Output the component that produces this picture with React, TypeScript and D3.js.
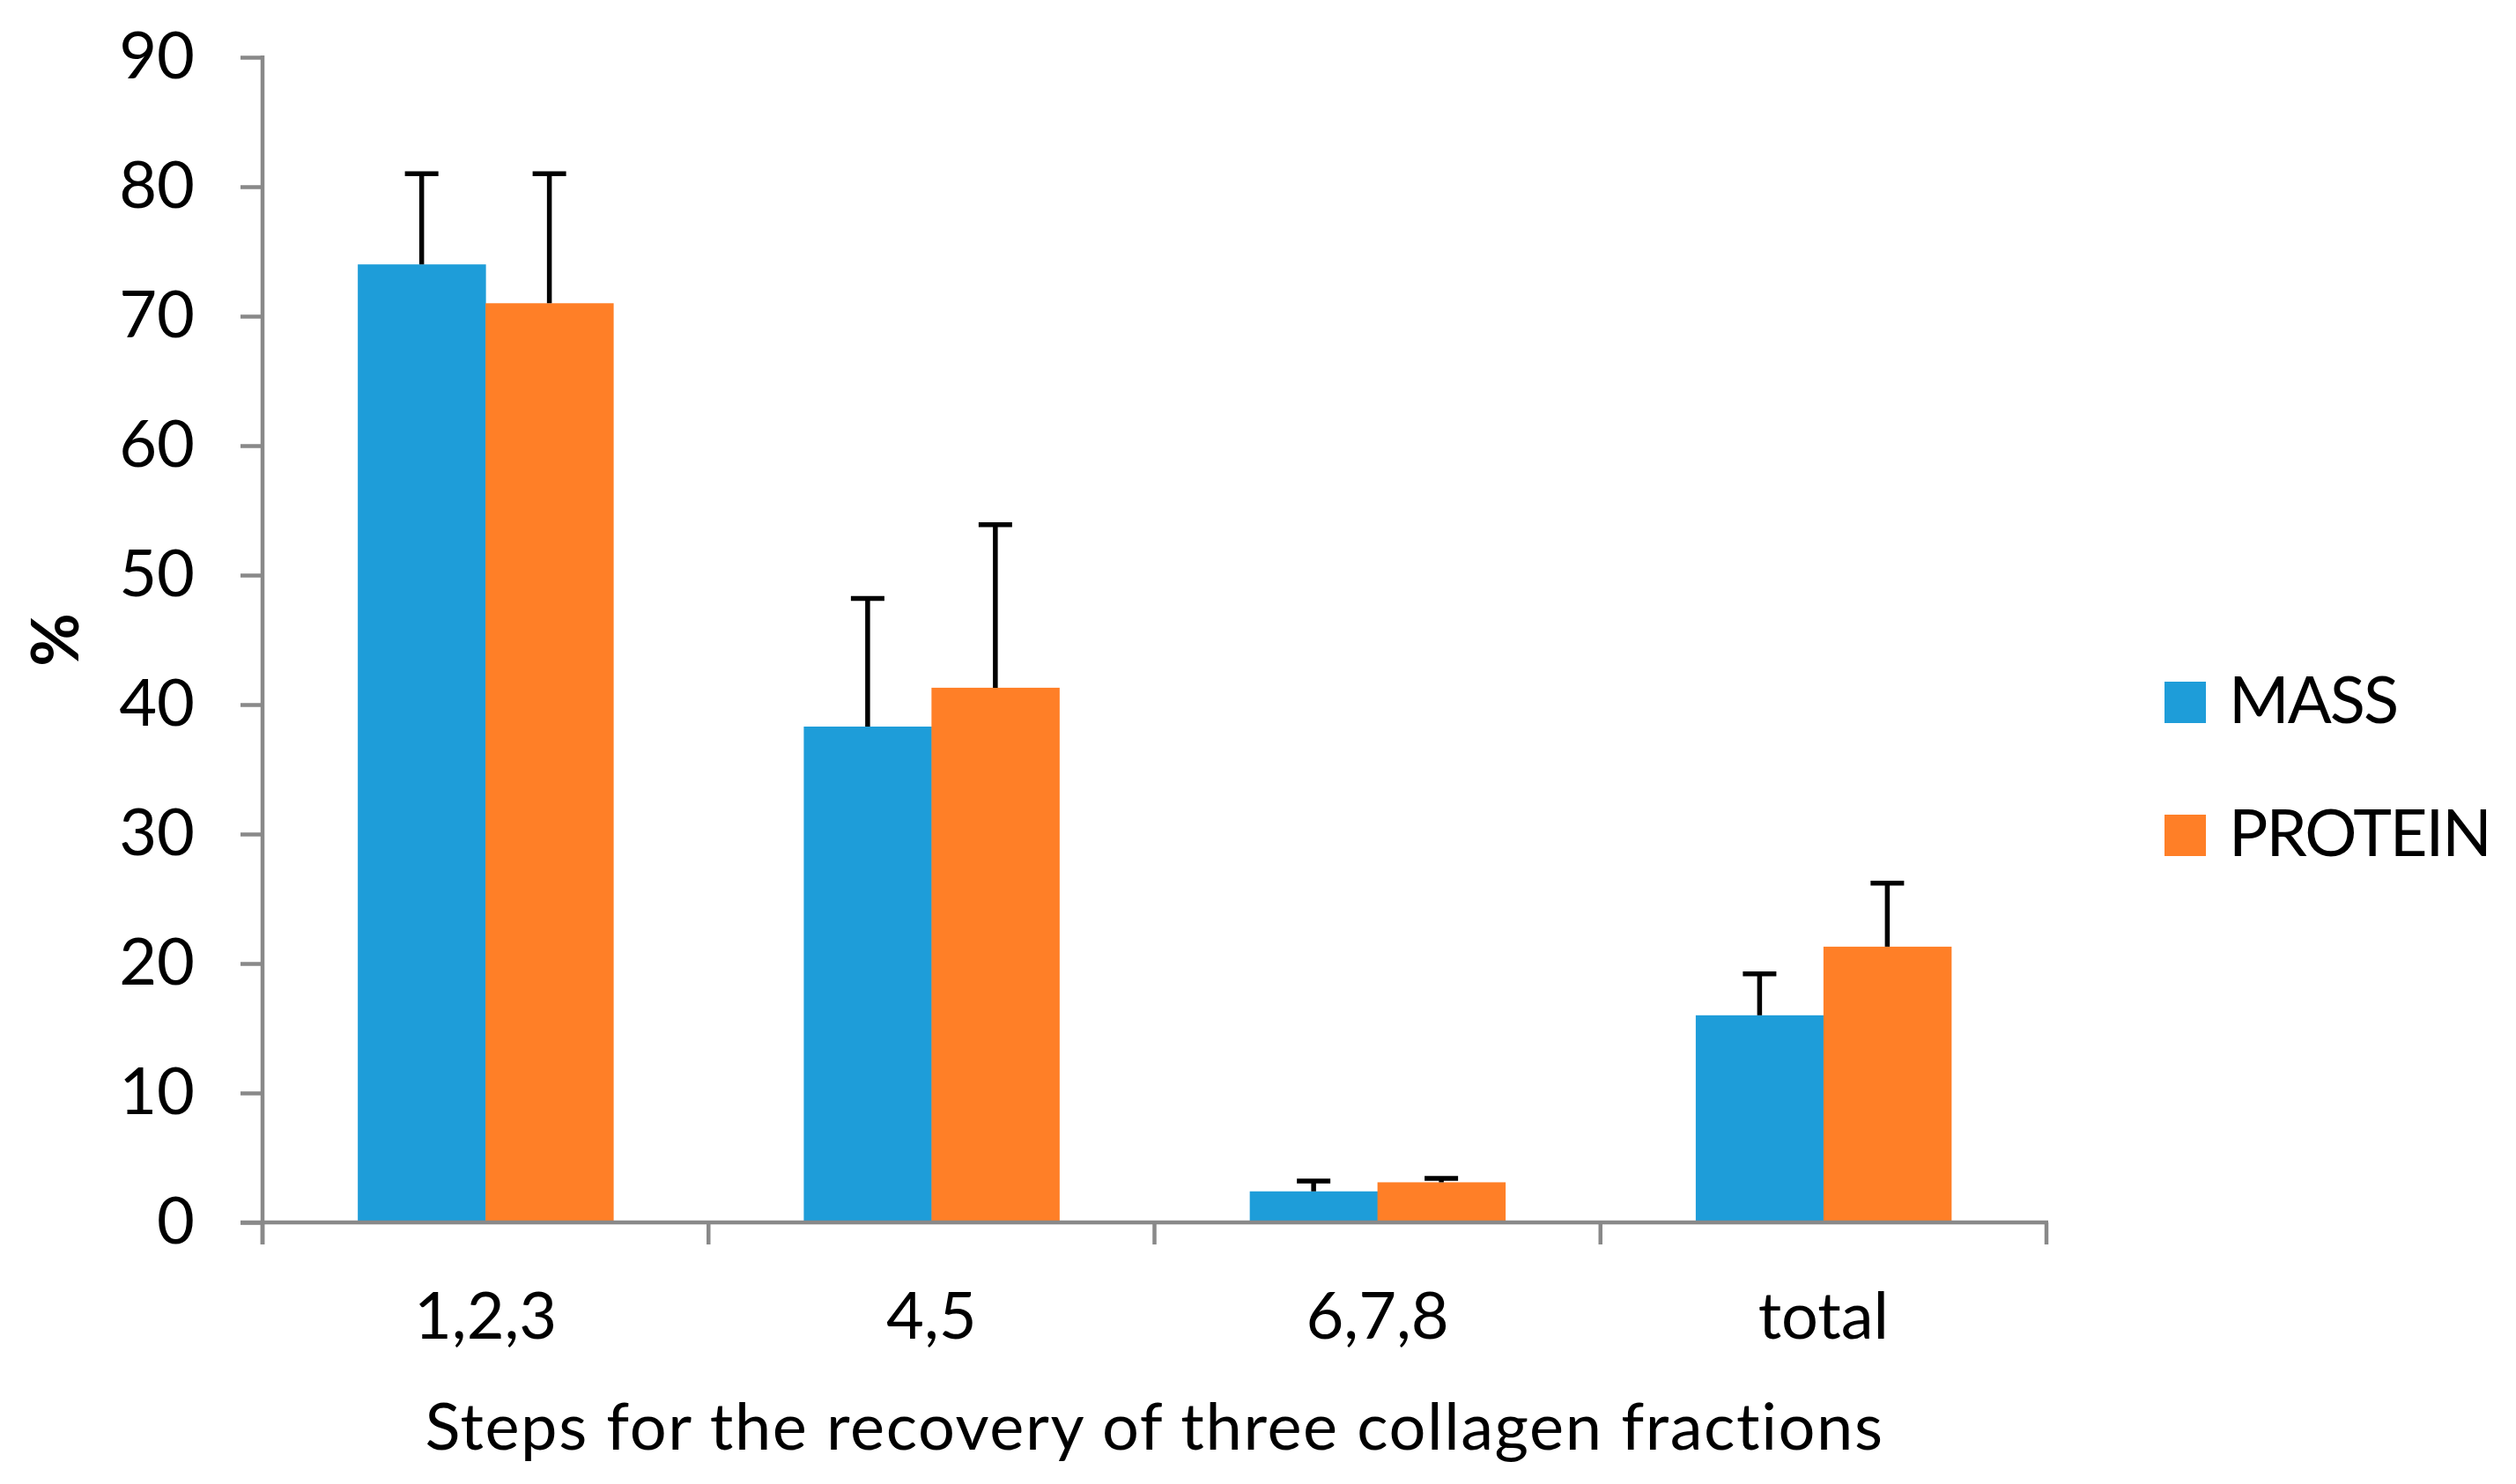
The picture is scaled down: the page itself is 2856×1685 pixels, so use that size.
import React, { useEffect, useRef } from 'react';
import * as d3 from 'd3';

const categories = ['1,2,3', '4,5', '6,7,8', 'total'];
const seriesNames = ['MASS', 'PROTEIN'];
const massValues = [74, 38.3, 2.4, 16.0];
const massErrors = [7, 9.9, 0.8, 3.2];
const proteinValues = [71, 41.3, 3.1, 21.3];
const proteinErrors = [10, 12.6, 0.3, 4.9];
const yTicks = [0, 10, 20, 30, 40, 50, 60, 70, 80, 90];
const colors = ['#1E9DD9', '#FF7F27'];

interface Bar {
  cat: string;
  series: string;
  value: number;
  err: number;
  color: string;
}

const App: React.FC = () => {
  const svgRef = useRef<SVGSVGElement>(null);

  useEffect(() => {
    document.body.style.margin = '0';
    if (!svgRef.current) return;

    const W = 2856;
    const H = 1685;
    const left = 298, right = 2323, top = 65, bottom = 1388;
    const font = 'Lato, "Open Sans", sans-serif';
    const fs = 74;
    const axisColor = '#898989';

    const svg = d3.select(svgRef.current);
    svg.selectAll('*').remove();

    const x0 = d3.scaleBand<string>().domain(categories).range([left, right]).padding(0);
    const x1 = d3.scaleBand<string>().domain(seriesNames).range([0, x0.bandwidth()])
      .paddingInner(0).paddingOuter(0.746);
    const y = d3.scaleLinear().domain([0, 90]).range([bottom, top]);

    const bars: Bar[] = [];
    categories.forEach((c, i) => {
      bars.push({ cat: c, series: seriesNames[0], value: massValues[i], err: massErrors[i], color: colors[0] });
      bars.push({ cat: c, series: seriesNames[1], value: proteinValues[i], err: proteinErrors[i], color: colors[1] });
    });

    // Bars
    svg.append('g').selectAll('rect')
      .data(bars)
      .enter()
      .append('rect')
      .attr('x', d => (x0(d.cat) ?? 0) + (x1(d.series) ?? 0))
      .attr('y', d => y(d.value))
      .attr('width', x1.bandwidth() + 0.5)
      .attr('height', d => y(0) - y(d.value))
      .attr('fill', d => d.color);

    // Error bars (plus only)
    const eb = svg.append('g').attr('stroke', '#000');
    const cx = (d: Bar) => (x0(d.cat) ?? 0) + (x1(d.series) ?? 0) + x1.bandwidth() / 2;
    eb.selectAll('line.v')
      .data(bars)
      .enter()
      .append('line')
      .attr('class', 'v')
      .attr('x1', cx).attr('x2', cx)
      .attr('y1', d => y(d.value))
      .attr('y2', d => y(d.value + d.err))
      .attr('stroke-width', 5.5);
    eb.selectAll('line.cap')
      .data(bars)
      .enter()
      .append('line')
      .attr('class', 'cap')
      .attr('x1', d => cx(d) - 19).attr('x2', d => cx(d) + 19)
      .attr('y1', d => y(d.value + d.err))
      .attr('y2', d => y(d.value + d.err))
      .attr('stroke-width', 5.5);

    // Y axis
    const yAxis = svg.append('g')
      .attr('transform', `translate(${left},0)`)
      .call(d3.axisLeft(y).tickValues(yTicks).tickSize(25).tickSizeOuter(0).tickPadding(52));
    yAxis.select('.domain').remove();
    yAxis.selectAll('line').attr('stroke', axisColor).attr('stroke-width', 4.5);
    yAxis.selectAll('text')
      .attr('font-family', font)
      .attr('font-size', fs)
      .attr('fill', '#000');
    yAxis.append('line')
      .attr('x1', 0).attr('x2', 0)
      .attr('y1', y(90) - 2).attr('y2', bottom + 25)
      .attr('stroke', axisColor).attr('stroke-width', 4.5);

    // X axis
    const xAxis = svg.append('g');
    xAxis.append('line')
      .attr('x1', left - 25).attr('x2', right + 2)
      .attr('y1', bottom).attr('y2', bottom)
      .attr('stroke', axisColor).attr('stroke-width', 4.5);
    const boundaries = [...categories.map(c => x0(c) ?? 0), x0.range()[1]];
    xAxis.selectAll('line.tick')
      .data(boundaries)
      .enter()
      .append('line')
      .attr('class', 'tick')
      .attr('x1', d => d).attr('x2', d => d)
      .attr('y1', bottom).attr('y2', bottom + 25)
      .attr('stroke', axisColor).attr('stroke-width', 4.5);
    xAxis.selectAll('text')
      .data(categories)
      .enter()
      .append('text')
      .attr('x', d => (x0(d) ?? 0) + x0.bandwidth() / 2)
      .attr('y', 1520)
      .attr('text-anchor', 'middle')
      .attr('font-family', font)
      .attr('font-size', fs)
      .attr('fill', '#000')
      .text(d => d);

    // Axis titles
    svg.append('text')
      .attr('x', (left + right) / 2)
      .attr('y', 1646)
      .attr('text-anchor', 'middle')
      .attr('font-family', font)
      .attr('font-size', fs)
      .attr('letter-spacing', 1.6)
      .attr('fill', '#000')
      .text('Steps for the recovery of three collagen fractions');

    svg.append('text')
      .attr('transform', `translate(${63 + 26},${(top + bottom) / 2}) rotate(-90)`)
      .attr('text-anchor', 'middle')
      .attr('font-family', font)
      .attr('font-size', fs)
      .attr('font-weight', 'bold')
      .attr('fill', '#000')
      .text('%');

    // Legend
    const legend = svg.append('g')
      .selectAll('g')
      .data(seriesNames)
      .enter()
      .append('g')
      .attr('transform', (_, i) => `translate(2457,${774 + i * 151})`);
    legend.append('rect')
      .attr('width', 47).attr('height', 47)
      .attr('fill', (_, i) => colors[i]);
    legend.append('text')
      .attr('x', 73)
      .attr('y', 47)
      .attr('font-family', font)
      .attr('font-size', fs)
      .attr('letter-spacing', -2)
      .attr('fill', '#000')
      .text(d => d);

    svg.attr('width', W).attr('height', H);
  }, []);

  return (
    <div style={{ background: '#fff' }}>
      <svg ref={svgRef} width={2856} height={1685} style={{ display: 'block' }} />
    </div>
  );
};

export default App;
